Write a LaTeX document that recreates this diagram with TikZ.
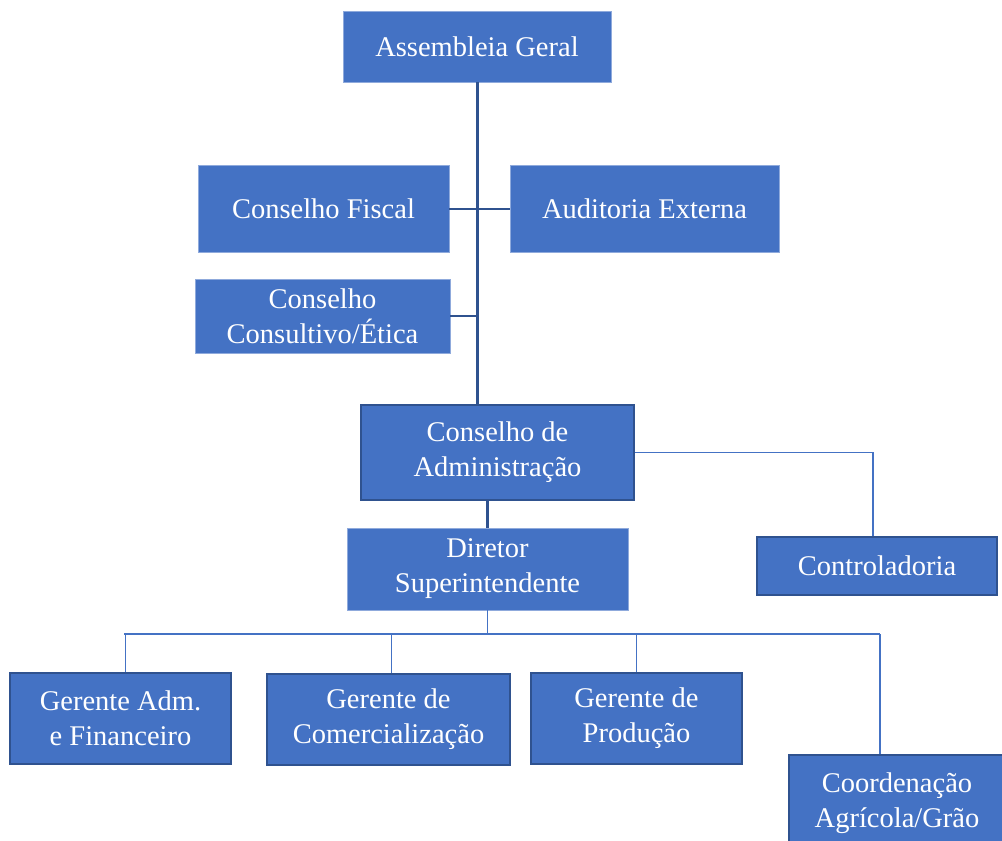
\documentclass[tikz,border=0pt]{standalone}
\usepackage{fontspec}
\setmainfont{Liberation Serif}
\usepackage{xcolor}
\usepackage{tikz}
\usetikzlibrary{positioning}
\definecolor{orgblue}{HTML}{4472C4}
\definecolor{orgdark}{HTML}{2F528F}
\definecolor{orgedge}{HTML}{8FAADC}
\tikzset{
  orgbox/.style={
    fill=orgblue,
    draw=orgedge,
    line width=0.6pt,
    align=center,
    text=white,
    inner sep=2pt,
    font=\fontsize{28.5}{35}\selectfont
  },
  orgboxdark/.style={orgbox,draw=orgdark,line width=2pt},
  mainline/.style={draw=orgdark,line width=3pt},
  midline/.style={draw=orgdark,line width=2pt},
  thinline/.style={draw=orgblue,line width=1.4pt}
}
\begin{document}
\begin{tikzpicture}[x=1pt,y=-1pt]
    \useasboundingbox (0,0) rectangle (1002,841);
    \clip (0,0) rectangle (1002,841);

    % governance
    \node[orgbox,minimum width=268pt,minimum height=71pt] (assembleia) at (477,46.5)
      {Assembleia Geral};
    \node[orgbox,minimum width=251pt,minimum height=87pt] (fiscal) at (323.5,208.5)
      {Conselho Fiscal};
    \node[orgbox,minimum width=269pt,minimum height=87pt] (auditoria) at (644.5,208.5)
      {Auditoria Externa};
    \node[orgbox,minimum width=255pt,minimum height=74pt] (consultivo) at (322.5,316)
      {Conselho\\Consultivo/Ética};
    \node[orgboxdark,minimum width=273pt,minimum height=95pt] (adm) at (497.5,452.5)
      {Conselho de\\Administração};

    \draw[mainline] (assembleia.south) -- (assembleia.south |- adm.north);
    \draw[midline] (fiscal.east) -- (auditoria.west);
    \draw[midline] (consultivo.east) -- (consultivo.east -| assembleia.south);

    % management
    \node[orgbox,minimum width=281pt,minimum height=82pt] (diretor) at (487.5,569)
      {Diretor\\Superintendente};
    \node[orgboxdark,minimum width=240pt,minimum height=58pt] (contr) at (877,566)
      {Controladoria};

    \draw[mainline] (diretor.north) -- (diretor.north |- adm.south);
    \draw[thinline] (adm.east) -- ([xshift=-4pt]adm.east -| contr.north)
      -- ([xshift=-4pt]contr.north);

    \node[orgboxdark,minimum width=221pt,minimum height=91pt] (gadm) at (120.5,718.5)
      {Gerente Adm.\\e Financeiro};
    \node[orgboxdark,minimum width=243pt,minimum height=91pt] (gcom) at (388.5,719.5)
      {Gerente de\\Comercialização};
    \node[orgboxdark,minimum width=211pt,minimum height=91pt] (gprod) at (636.5,718.5)
      {Gerente de\\Produção};
    \node[orgboxdark,minimum width=216pt,minimum height=96pt] (coord) at (897,803)
      {Coordenação\\Agrícola/Grão};

    \coordinate (busL) at (124,634);
    \coordinate (busR) at (880,634);
    \draw[thinline] (diretor.south) -- (diretor.south |- busL);
    \draw[thinline] (busL) -- (busR);
    \draw[thinline] ([xshift=5pt]gadm.north |- busL) -- ([xshift=5pt]gadm.north);
    \draw[thinline] ([xshift=3pt]gcom.north |- busL) -- ([xshift=3pt]gcom.north);
    \draw[thinline] (gprod.north |- busL) -- (gprod.north);
    \draw[thinline] (busR) -- (busR |- coord.north);
  \end{tikzpicture}
\end{document}
